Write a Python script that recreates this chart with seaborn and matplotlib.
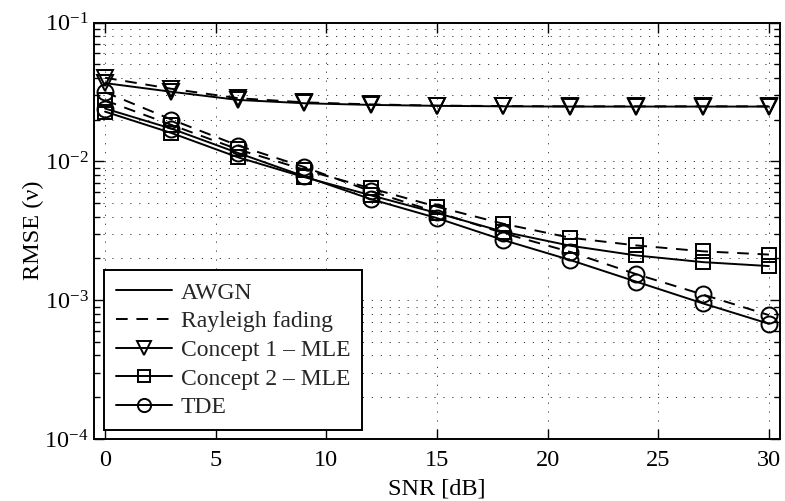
import matplotlib
matplotlib.use("Agg")
import matplotlib.pyplot as plt
from matplotlib.lines import Line2D
from matplotlib.ticker import LogLocator, NullFormatter, LogFormatterMathtext
import seaborn as sns

# SNR grid (dB)
snr_db = [0, 3, 6, 9, 12, 15, 18, 21, 24, 27, 30]

# RMSE of the estimated parameter nu
c1_awgn = [0.0366, 0.0317, 0.0277, 0.0262, 0.0255, 0.0251, 0.0249, 0.0248, 0.0248, 0.0248, 0.0248]
c1_rayleigh = [0.0400, 0.0333, 0.0285, 0.0266, 0.0257, 0.0252, 0.0250, 0.0249, 0.0249, 0.0249, 0.0249]
c2_awgn = [0.0228, 0.0160, 0.0107, 0.0077, 0.0057, 0.00424, 0.00311, 0.00247, 0.00210, 0.00188, 0.00176]
c2_rayleigh = [0.0275, 0.0183, 0.0122, 0.0087, 0.0064, 0.00471, 0.00355, 0.00282, 0.00248, 0.00225, 0.00213]
tde_awgn = [0.0240, 0.0172, 0.0115, 0.0078, 0.00535, 0.0039, 0.00271, 0.00195, 0.00136, 0.00095, 0.000676]
tde_rayleigh = [0.0315, 0.0200, 0.0130, 0.0091, 0.0061, 0.0043, 0.00304, 0.00223, 0.00154, 0.00110, 0.00078]

legend_labels = ["AWGN", "Rayleigh fading", "Concept 1 \u2013 MLE", "Concept 2 \u2013 MLE", "TDE"]
x_ticks = [0, 5, 10, 15, 20, 25, 30]

sns.set_theme(style="ticks")
plt.rcParams["font.family"] = ["Liberation Serif", "DejaVu Serif"]
plt.rcParams["mathtext.fontset"] = "stix"
plt.rcParams["font.size"] = 17.5

LW = 1.4
FS = 17.5
DASHED = (0, (6, 4.5))
marker_size = {"v": 12, "s": 10.5, "o": 11.5}

fig = plt.figure(figsize=(7.85, 5.01), dpi=100)
ax = fig.add_axes([94 / 785, 1 - 439 / 501, (780 - 94) / 785, (439 - 22.5) / 501])

series = [
    (c1_awgn, "v", "-"),
    (c1_rayleigh, "v", DASHED),
    (c2_awgn, "s", "-"),
    (c2_rayleigh, "s", DASHED),
    (tde_awgn, "o", "-"),
    (tde_rayleigh, "o", DASHED),
]
for vals, mk, ls in series:
    sns.lineplot(
        x=snr_db, y=vals, ax=ax, color="black", linestyle=ls, linewidth=LW,
        marker=mk, markersize=marker_size[mk], markerfacecolor="none",
        markeredgecolor="black", markeredgewidth=LW, estimator=None, legend=False,
    )

ax.set_yscale("log")
ax.set_xlim(-0.5, 30.5)
ax.set_ylim(1e-4, 1e-1)
ax.set_xticks(x_ticks)
ax.set_xticklabels([str(t) for t in x_ticks])
ax.yaxis.set_major_locator(LogLocator(base=10, numticks=10))
ax.yaxis.set_minor_locator(LogLocator(base=10, subs=range(2, 10), numticks=20))
ax.yaxis.set_major_formatter(LogFormatterMathtext())
ax.yaxis.set_minor_formatter(NullFormatter())

grid_style = dict(color="#333333", linestyle=(0, (1.2, 8)), linewidth=0.7)
ax.grid(True, which="major", axis="both", **grid_style)
ax.grid(True, which="minor", axis="y", **grid_style)
ax.set_axisbelow(True)

ax.tick_params(which="both", direction="in", top=True, right=True, color="black",
               labelcolor="black", labelsize=FS)
ax.tick_params(which="major", length=7, width=1.0)
ax.tick_params(which="minor", length=4, width=1.0)
ax.tick_params(axis="x", which="major", pad=8)
ax.tick_params(axis="y", which="major", pad=4)
for sp in ax.spines.values():
    sp.set_color("black")
    sp.set_linewidth(LW)

ax.set_xlabel("SNR [dB]", fontsize=FS, color="black", labelpad=5)
ax.set_ylabel("RMSE (\u03bd)", fontsize=FS, color="black", labelpad=0)

handles = [
    Line2D([], [], color="black", lw=LW, ls="-"),
    Line2D([], [], color="black", lw=LW, ls=DASHED),
    Line2D([], [], color="black", lw=LW, marker="v", ms=10, mfc="none", mec="black", mew=LW),
    Line2D([], [], color="black", lw=LW, marker="s", ms=8.5, mfc="none", mec="black", mew=LW),
    Line2D([], [], color="black", lw=LW, marker="o", ms=9.5, mfc="none", mec="black", mew=LW),
]
leg = ax.legend(
    handles, legend_labels, loc="lower left", bbox_to_anchor=(0.0146, 0.0216),
    borderaxespad=0, frameon=True, fancybox=False, edgecolor="black", framealpha=1,
    handlelength=2.4, handletextpad=0.35, labelspacing=0.3, borderpad=0.5,
    fontsize=17,
)
leg.get_frame().set_linewidth(LW)

fig.savefig("out.png", dpi=100, facecolor="white")
